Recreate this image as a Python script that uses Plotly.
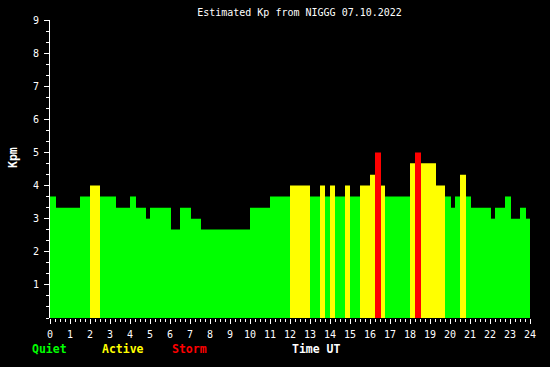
import plotly.graph_objects as go

# Segment start times (hours UT); last entry is the end of the final segment
edges = [0, 0.3, 1.5, 2.0, 2.5, 3.3, 4.0, 4.3, 4.8, 5.0, 6.05, 6.5, 7.05, 7.55,
         10.0, 11.0, 12.0, 13.0, 13.5, 13.75, 14.0, 14.25, 14.75, 15.0, 15.5,
         16.0, 16.25, 16.55, 16.75, 18.0, 18.25, 18.55, 19.3, 19.75, 20.05,
         20.25, 20.5, 20.8, 21.05, 22.05, 22.25, 22.75, 23.05, 23.5, 23.8, 24.05]

# Estimated Kp values per segment
kp = [3.67, 3.33, 3.67, 4.0, 3.67, 3.33, 3.67, 3.33, 3.0, 3.33, 2.67, 3.33, 3.0,
      2.67, 3.33, 3.67, 4.0, 3.67, 4.0, 3.67, 4.0, 3.67, 4.0, 3.67, 4.0, 4.33,
      5.0, 4.0, 3.67, 4.67, 5.0, 4.67, 4.0, 3.67, 3.33, 3.67, 4.33, 3.67, 3.33,
      3.0, 3.33, 3.67, 3.0, 3.33, 3.0]

hour_ticks = list(range(0, 25))
kp_ticks = list(range(1, 10))

GREEN, YELLOW, RED = "#00FF00", "#FFFF00", "#FF0000"


def level_color(v):
    if v >= 4.99:
        return RED
    if v >= 3.99:
        return YELLOW
    return GREEN


mids = [(edges[i] + edges[i + 1]) / 2 for i in range(len(kp))]
widths = [edges[i + 1] - edges[i] for i in range(len(kp))]
colors = [level_color(v) for v in kp]

fig = go.Figure(go.Bar(
    x=mids, y=kp, width=widths,
    marker=dict(color=colors, line=dict(width=0)),
    hoverinfo="x+y",
))

mono = "DejaVu Sans Mono"

fig.update_layout(
    width=550, height=367,
    margin=dict(l=50, r=20, t=20, b=49),
    paper_bgcolor="black", plot_bgcolor="black",
    showlegend=False,
    title=dict(text="Estimated Kp from NIGGG 07.10.2022",
               x=299.5 / 550, xanchor="center", xref="container",
               y=1 - 12 / 367, yanchor="middle", yref="container",
               font=dict(family=mono, size=10, color="white")),
    xaxis=dict(range=[0, 24], tickvals=hour_ticks, ticktext=[str(h) for h in hour_ticks],
               ticks="outside", ticklen=5, tickcolor="white", tickwidth=1,
               showline=False, showgrid=False, zeroline=False,
               tickfont=dict(family=mono, size=10, color="white"),
               ticklabelstandoff=2,
               minor=dict(dtick=0.25, tick0=0, ticks="outside", ticklen=3,
                          tickcolor="white", tickwidth=1, showgrid=False),
               fixedrange=True, automargin=False),
    yaxis=dict(range=[0, 9], tickvals=kp_ticks, ticktext=[str(k) for k in kp_ticks],
               ticks="outside", ticklen=5, tickcolor="white", tickwidth=1,
               showline=True, linecolor="white", linewidth=1,
               showgrid=False, zeroline=False,
               tickfont=dict(family=mono, size=10, color="white"),
               ticklabelstandoff=3,
               minor=dict(dtick=1 / 3, tick0=0, ticks="outside", ticklen=3,
                          tickcolor="white", tickwidth=1, showgrid=False),
               fixedrange=True, automargin=False),
)

bold = dict(family=mono, size=11.5)
labels = [("Quiet", 30, GREEN), ("Active", 100, YELLOW), ("Storm", 170, RED), ("Time UT", 290, "white")]
for txt, px, col in labels:
    fig.add_annotation(text="<b>%s</b>" % txt, xref="paper", yref="paper",
                       x=(px - 50) / 480, y=(317.7 - 349) / 297.4,
                       xanchor="left", yanchor="middle", showarrow=False,
                       font=dict(color=col, **bold))

fig.add_annotation(text="<b>Kpm</b>", xref="paper", yref="paper",
                   x=(13 - 50) / 480, y=(317.7 - 158) / 297.4, textangle=-90,
                   xanchor="center", yanchor="middle", showarrow=False,
                   font=dict(color="white", **bold))

fig.write_html("out.html", config={"displayModeBar": False},
               post_script="document.body.style.margin='0';document.body.style.background='black';")
